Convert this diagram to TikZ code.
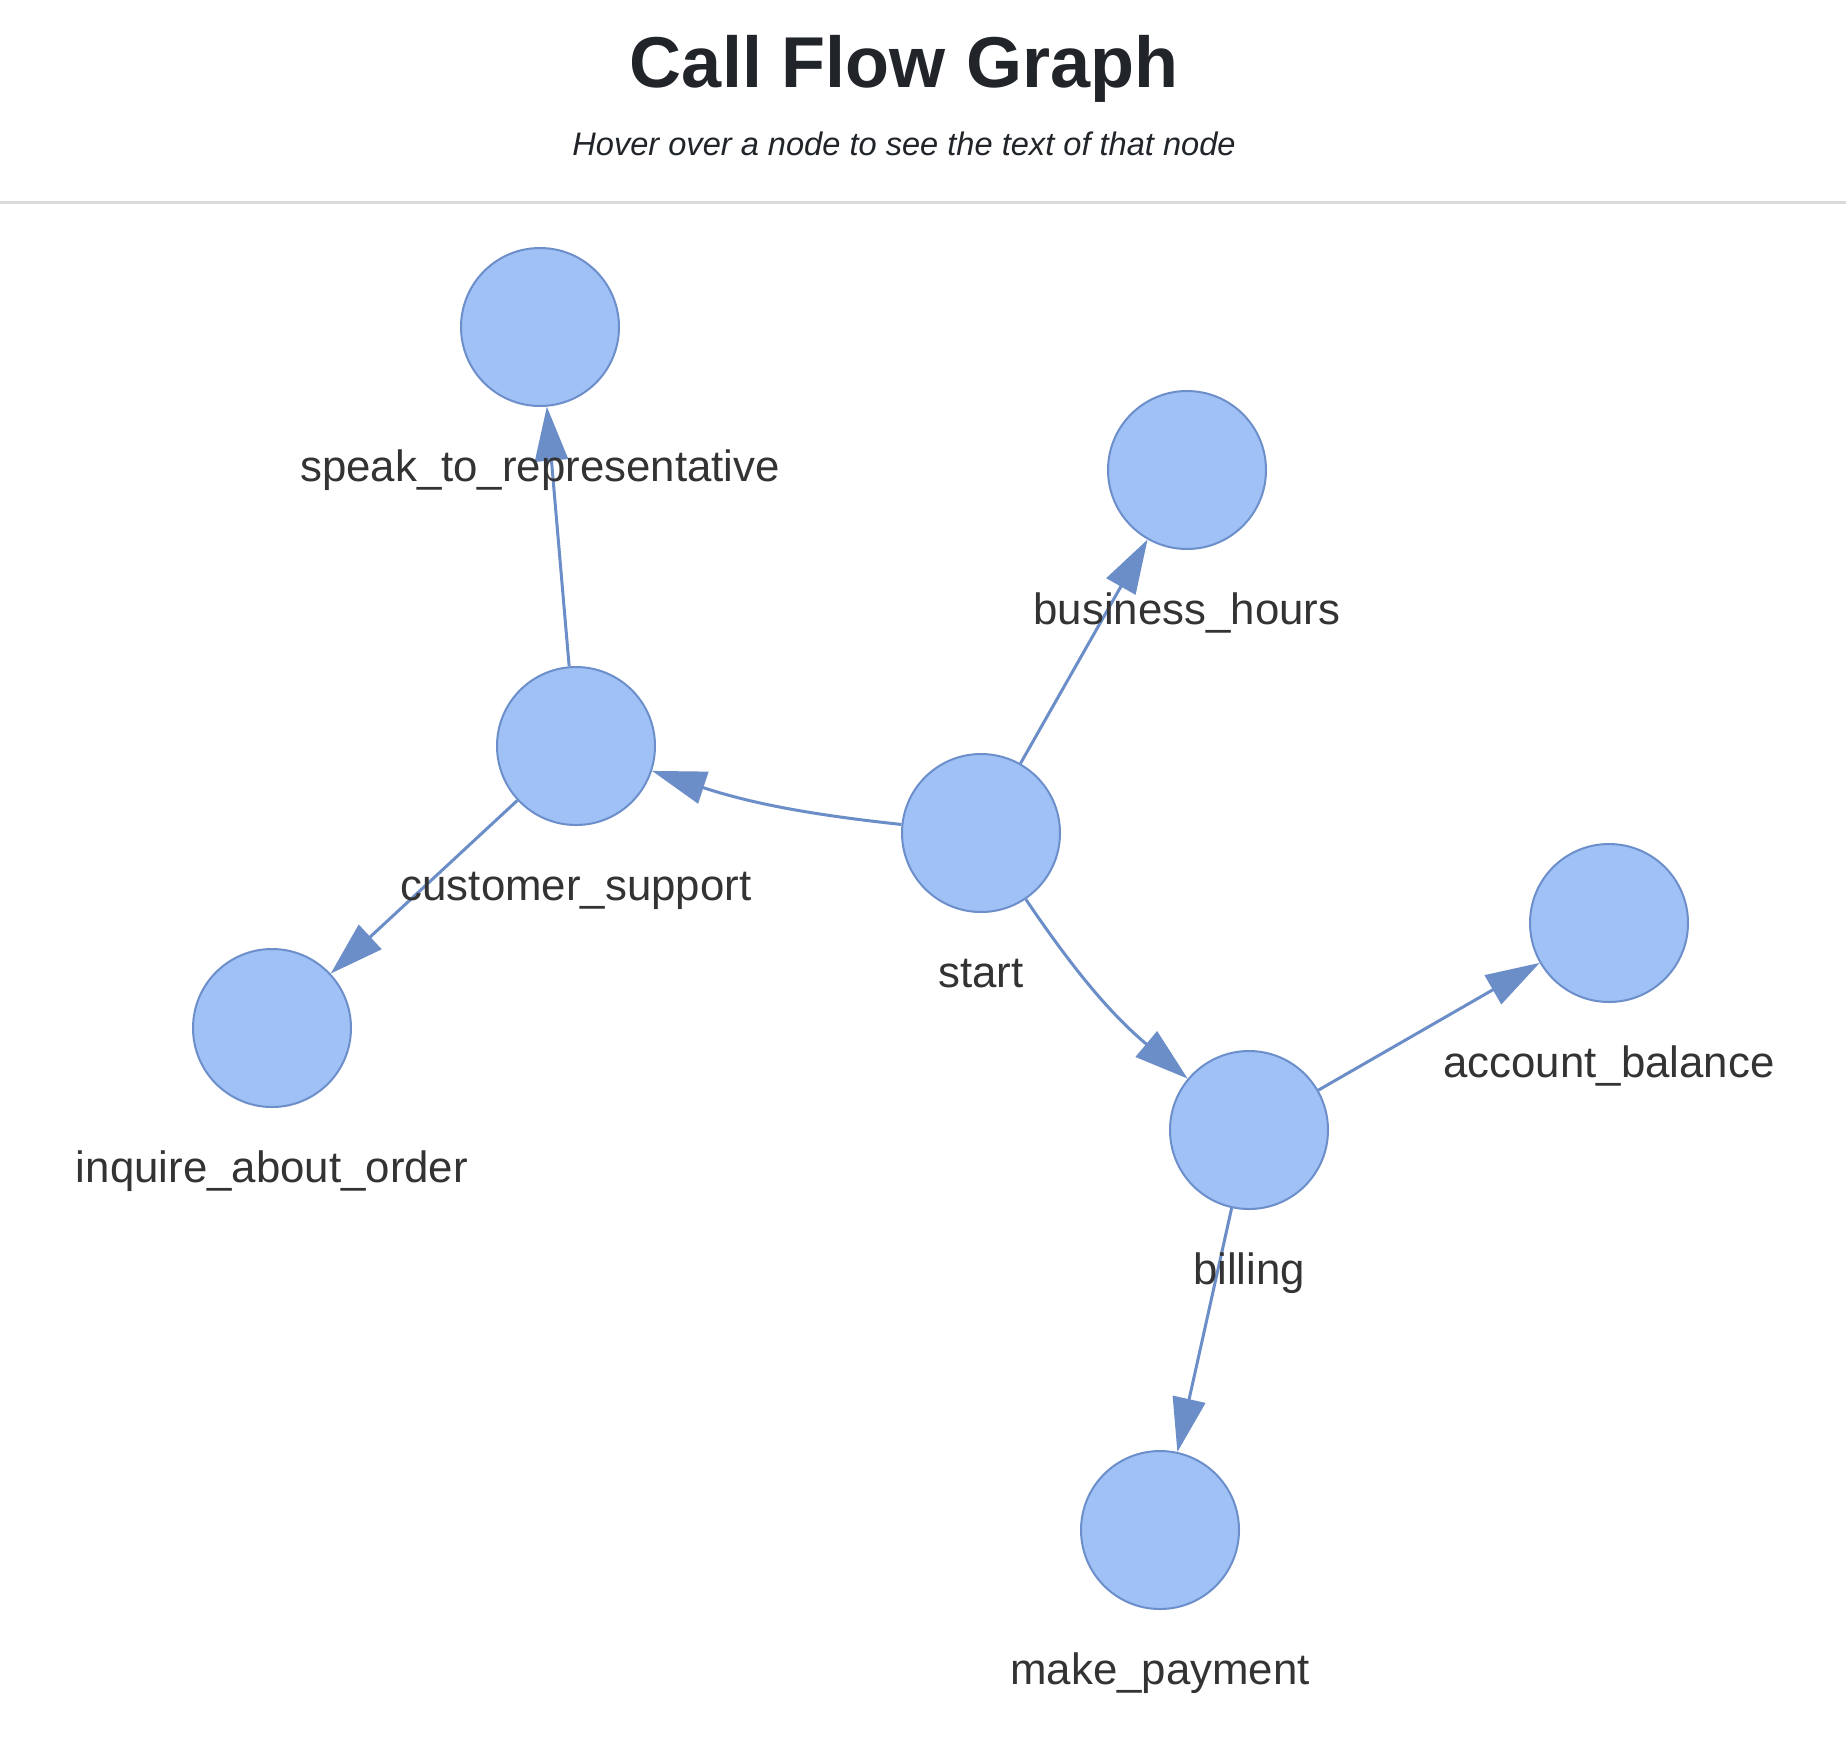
\documentclass[tikz,border=0pt]{standalone}
\usepackage{fontspec}
\setmainfont{Liberation Sans}
\usetikzlibrary{arrows.meta}
\pgfdeclarelayer{background}
\pgfsetlayers{background,main}
\definecolor{nodefill}{HTML}{A0C1F5}
\definecolor{nodeline}{HTML}{6C8FCB}
\definecolor{edgecol}{HTML}{6B8EC8}
\definecolor{labelcol}{HTML}{333333}
\definecolor{titlecol}{HTML}{212529}
\definecolor{sepcol}{HTML}{DADADA}
\begin{document}
\begin{tikzpicture}[x=0.5pt,y=-0.5pt,
  cnode/.style={circle, draw=nodeline, fill=nodefill, line width=1pt, minimum size=79pt, inner sep=0pt},
  nlabel/.style={anchor=base, text=labelcol, font=\fontsize{21.9}{26}\selectfont, inner sep=0pt},
  edge/.style={draw=edgecol, line width=1.5pt, -{Triangle[length=27pt,width=16.5pt]}}]
\useasboundingbox (0,0) rectangle (1846,1746);

% header
\node[anchor=base, text=titlecol, font=\fontsize{36}{42}\selectfont\bfseries, inner sep=0pt] (title) at (904,87) {Call Flow Graph};
\node[anchor=base, text=titlecol, font=\fontsize{16.3}{20}\selectfont\itshape, inner sep=0pt] (subtitle) at (904,155) {Hover over a node to see the text of that node};
\draw[sepcol, line width=1.5pt] (0,202) -- (1846,202);

% nodes
\node[cnode] (start) at (981,833) {};
\node[cnode] (cs) at (576,746) {};
\node[cnode] (speak) at (540,327) {};
\node[cnode] (bh) at (1187,470) {};
\node[cnode] (ab) at (1609,923) {};
\node[cnode] (inq) at (272,1028) {};
\node[cnode] (billing) at (1249,1130) {};
\node[cnode] (pay) at (1160,1530) {};

% edges
\begin{pgfonlayer}{background}
\fill[white] (0,0) rectangle (1846,1746);
\draw[edge] (start) to[bend left=6] (cs);
\draw[edge] (start) -- (bh);
\draw[edge] (start) to[bend right=8] (billing);
\draw[edge] (cs) -- (speak);
\draw[edge] (cs) -- (inq);
\draw[edge] (billing) -- (ab);
\draw[edge] (billing) -- (pay);
\end{pgfonlayer}

% labels
\node[nlabel] (lspeak) at (540,481) {speak\_to\_representative};
\node[nlabel] (lbh) at (1187,624) {business\_hours};
\node[nlabel] (lcs) at (576,900) {customer\_support};
\node[nlabel] (lstart) at (981,987) {start};
\node[nlabel] (lab) at (1609,1077) {account\_balance};
\node[nlabel] (linq) at (272,1182) {inquire\_about\_order};
\node[nlabel] (lbilling) at (1249,1284) {billing};
\node[nlabel] (lpay) at (1160,1684) {make\_payment};
\end{tikzpicture}
\end{document}
